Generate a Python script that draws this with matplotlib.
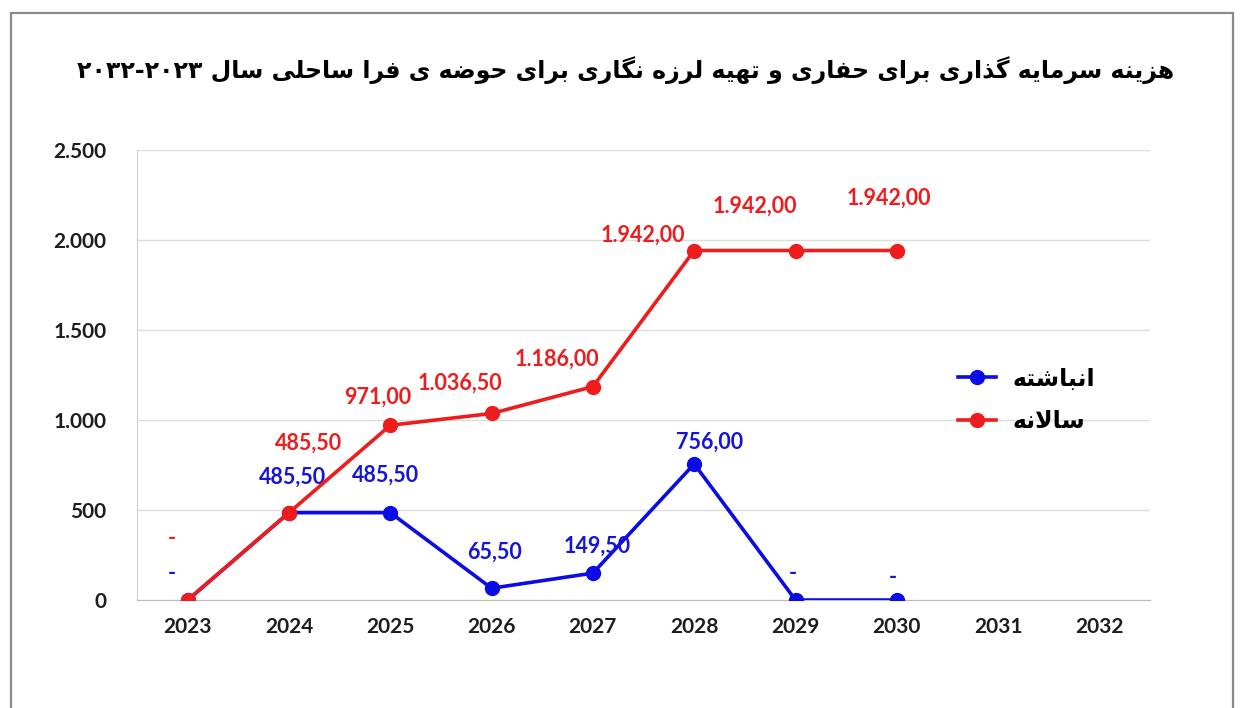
import numpy as np
import matplotlib.pyplot as plt
from matplotlib.patches import Rectangle

# data
years = ['2023', '2024', '2025', '2026', '2027', '2028', '2029', '2030', '2031', '2032']
annual = [0, 485.5, 971.0, 1036.5, 1186.0, 1942.0, 1942.0, 1942.0]      # red
cumul = [0, 485.5, 485.5, 65.5, 149.5, 756.0, 0, 0]                      # blue

title_txt = 'هزینه سرمایه گذاری برای حفاری و تهیه لرزه نگاری برای حوضه ی فرا ساحلی سال ۲۰۲۳-۲۰۳۲'
name_cumul = 'انباشته'
name_annual = 'سالانه'

# label offsets in pixels (dx, dy)
off_annual = [(-16, 62), (19, 69), (-13, 28), (-32, 30), (-36, 27), (-51, 15), (-41, 44), (-8, 52)]
off_cumul = [(-16, 27), (3, 35), (-5, 37), (3, 36), (4, 27), (15, 22), (-3, 27), (-4, 23)]

# simple arabic/persian shaping (isolated, final, initial, medial)
FORMS = {
    'ا': ('\uFE8D', '\uFE8E', None, None),
    'ب': ('\uFE8F', '\uFE90', '\uFE91', '\uFE92'),
    'ت': ('\uFE95', '\uFE96', '\uFE97', '\uFE98'),
    'ح': ('\uFEA1', '\uFEA2', '\uFEA3', '\uFEA4'),
    'ذ': ('\uFEAB', '\uFEAC', None, None),
    'ر': ('\uFEAD', '\uFEAE', None, None),
    'ز': ('\uFEAF', '\uFEB0', None, None),
    'س': ('\uFEB1', '\uFEB2', '\uFEB3', '\uFEB4'),
    'ش': ('\uFEB5', '\uFEB6', '\uFEB7', '\uFEB8'),
    'ض': ('\uFEBD', '\uFEBE', '\uFEBF', '\uFEC0'),
    'ف': ('\uFED1', '\uFED2', '\uFED3', '\uFED4'),
    'ل': ('\uFEDD', '\uFEDE', '\uFEDF', '\uFEE0'),
    'م': ('\uFEE1', '\uFEE2', '\uFEE3', '\uFEE4'),
    'ن': ('\uFEE5', '\uFEE6', '\uFEE7', '\uFEE8'),
    'ه': ('\uFEE9', '\uFEEA', '\uFEEB', '\uFEEC'),
    'و': ('\uFEED', '\uFEEE', None, None),
    'ی': ('\uFBFC', '\uFBFD', '\uFBFE', '\uFBFF'),
    'گ': ('\uFB92', '\uFB93', '\uFB94', '\uFB95'),
}
DIGITS = '0123456789۰۱۲۳۴۵۶۷۸۹'


def shape(text):
    chars = list(text)
    n = len(chars)
    res = []
    i = 0
    while i < n:
        c = chars[i]
        if c not in FORMS:
            res.append(c)
            i += 1
            continue
        prev = chars[i - 1] if i > 0 else None
        join_prev = prev in FORMS and FORMS[prev][2] is not None
        if c == 'ل' and i + 1 < n and chars[i + 1] == 'ا':
            res.append('\uFEFC' if join_prev else '\uFEFB')
            i += 2
            continue
        nxt = chars[i + 1] if i + 1 < n else None
        join_next = FORMS[c][2] is not None and nxt in FORMS
        iso, fin, ini, med = FORMS[c]
        if join_prev and join_next:
            g = med
        elif join_prev:
            g = fin
        elif join_next:
            g = ini
        else:
            g = iso
        res.append(g)
        i += 1
    # visual order: reverse, keep digit runs left-to-right
    tokens = []
    for g in res:
        if g in DIGITS and tokens and tokens[-1][-1] in DIGITS:
            tokens[-1] += g
        else:
            tokens.append(g)
    return ''.join(tokens[::-1])


def fmt(v):
    if v == 0:
        return '-'
    s = f'{v:,.2f}'
    return s.replace(',', 'X').replace('.', ',').replace('X', '.')


red = '#ee1c1c'
blue = '#0b0be6'
num_font = 'Lato'

fig = plt.figure(figsize=(12.46, 7.08), dpi=100)
ax = fig.add_axes([0.110, 0.1525, 0.813, 0.6355])

x = np.arange(len(years))
ax.plot(x[:len(cumul)], cumul, color=blue, lw=2.6, marker='o', ms=10, label=shape(name_cumul), zorder=3)
ax.plot(x[:len(annual)], annual, color=red, lw=2.6, marker='o', ms=10, label=shape(name_annual), zorder=4)

for i, v in enumerate(annual):
    ax.annotate(fmt(v), (x[i], v), xytext=off_annual[i], textcoords='offset pixels',
                ha='center', va='center', color=red, fontsize=15.5, fontweight='bold', family=num_font)
for i, v in enumerate(cumul):
    ax.annotate(fmt(v), (x[i], v), xytext=off_cumul[i], textcoords='offset pixels',
                ha='center', va='center', color='#1515d8', fontsize=15.5, fontweight='bold', family=num_font)

ax.set_xlim(-0.5, len(years) - 0.5)
ax.set_ylim(0, 2500)
ax.set_yticks(np.arange(0, 2501, 500))
ax.set_yticklabels([fmt(v).split(',')[0] if v else '0' for v in np.arange(0, 2501, 500)])
ax.set_xticks(x)
ax.set_xticklabels(years)
ax.tick_params(length=0, labelsize=15, colors='#1e1e1e', pad=12)
ax.tick_params(axis='y', pad=22)
for lab in ax.get_xticklabels() + ax.get_yticklabels():
    lab.set_fontweight('bold')
    lab.set_family(num_font)
ax.grid(axis='y', color='#dddddd', lw=1)
ax.set_axisbelow(True)
for s in ['top', 'right']:
    ax.spines[s].set_visible(False)
ax.spines['left'].set_color('#cccccc')
ax.spines['bottom'].set_color('#bbbbbb')

fig.text(0.502, 0.901, shape(title_txt), ha='center', va='center', fontsize=17,
         fontweight='bold', family='DejaVu Sans')

leg = ax.legend(loc='center left', bbox_to_anchor=(0.752, 0.435), bbox_transform=fig.transFigure,
                frameon=False, handlelength=1.6, handletextpad=0.7, labelspacing=0.8,
                prop={'family': 'DejaVu Sans', 'weight': 'bold', 'size': 17})

fig.patches.append(Rectangle((11 / 1246, -0.1), 1222 / 1246, 1.1 - 13 / 708, transform=fig.transFigure,
                             fill=False, edgecolor='#8a8a8a', lw=1.6))

fig.savefig('out.png', dpi=100)
